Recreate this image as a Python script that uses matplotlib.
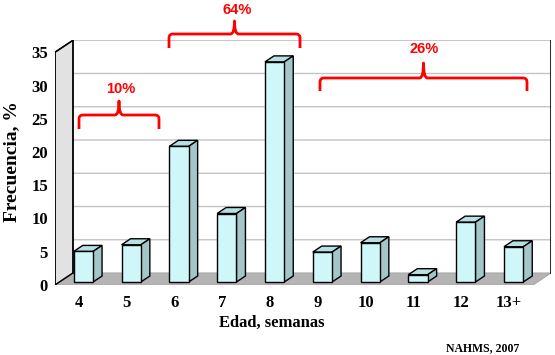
import matplotlib
matplotlib.use("Agg")
import matplotlib.pyplot as plt
from matplotlib.patches import Polygon, PathPatch
from matplotlib.path import Path

# ---- data ----
categories = ["4", "5", "6", "7", "8", "9", "10", "11", "12", "13+"]
values = [4.6, 5.6, 20.4, 10.3, 33.1, 4.5, 5.9, 1.1, 9.0, 5.3]
yticks = [0, 5, 10, 15, 20, 25, 30, 35]
groups = ["10%", "64%", "26%"]

# ---- layout (pixels) ----
W_PX, H_PX = 555, 355
X0_PX, X1_PX = 55, 551       # axes left/right
Y0_PX, Y1_PX = 285, 40       # axes bottom (front zero) / top
PX_PER_CAT = 47.8
PX_PER_UNIT = 6.65

fig = plt.figure(figsize=(W_PX / 100, H_PX / 100), dpi=100)
ax = fig.add_axes([X0_PX / W_PX, 1 - Y0_PX / H_PX,
                   (X1_PX - X0_PX) / W_PX, (Y0_PX - Y1_PX) / H_PX])
xmax = -0.5 + (X1_PX - X0_PX) / PX_PER_CAT
ymax = (Y0_PX - Y1_PX) / PX_PER_UNIT
ax.set_xlim(-0.5, xmax)
ax.set_ylim(0, ymax)
for s in ax.spines.values():
    s.set_visible(False)

DX = 18 / PX_PER_CAT
DY = 12 / PX_PER_UNIT
n = len(categories)
top = yticks[-1]

# left wall
ax.add_patch(Polygon([(-0.5, 0), (-0.5 + DX, DY), (-0.5 + DX, top + DY), (-0.5, top)],
                     closed=True, facecolor="#e2e2e2", edgecolor="black", lw=1.0, zorder=1))
# floor
ax.add_patch(Polygon([(-0.5, 0), (n - 0.5, 0), (n - 0.5 + DX, DY), (-0.5 + DX, DY)],
                     closed=True, facecolor="#b4b4b4", edgecolor="#a8a8a8", lw=0.8, zorder=1))
# gridlines
for v in yticks[1:]:
    ax.plot([-0.5, -0.5 + DX, n - 0.5 + DX], [v, v + DY, v + DY],
            color="#c4c4c4", lw=1.0, zorder=0.5)
# re-draw left wall edges over gridlines
ax.plot([-0.5, -0.5, -0.5 + DX, -0.5 + DX], [0, top, top + DY, DY], color="black", lw=1.0, zorder=1.5)
ax.plot([-0.5, -0.5 + DX], [0, DY], color="black", lw=1.0, zorder=1.5)
# back wall right edge
ax.plot([n - 0.5 + DX, n - 0.5 + DX], [DY, top + DY], color="black", lw=1.2, zorder=1.5)

# bars
BW = 19.3 / PX_PER_CAT
offx, offy = DX / 4, DY / 4
bdx, bdy = DX / 2, DY / 2
xs = list(range(n))
front = "#cff6f8"
topc = "#b8e0e2"
side = "#a3c6c8"
ax.bar([x + offx for x in xs], values, width=BW, bottom=offy,
       facecolor=front, edgecolor="black", linewidth=1.0, zorder=3)
for x, v in zip(xs, values):
    x0 = x + offx - BW / 2
    y0 = offy
    ax.add_patch(Polygon([(x0, y0 + v), (x0 + BW, y0 + v), (x0 + BW + bdx, y0 + v + bdy),
                          (x0 + bdx, y0 + v + bdy)], closed=True,
                         facecolor=topc, edgecolor="black", lw=1.0, zorder=2.9))
    ax.add_patch(Polygon([(x0 + BW, y0), (x0 + BW + bdx, y0 + bdy), (x0 + BW + bdx, y0 + v + bdy),
                          (x0 + BW, y0 + v)], closed=True,
                         facecolor=side, edgecolor="black", lw=1.0, zorder=2.9))

# ticks
tickfont = dict(family="Liberation Serif", weight="bold", size=12)
ax.set_xticks(xs)
ax.set_xticklabels(categories, **tickfont)
ax.set_yticks(yticks)
ax.set_yticklabels([str(t) for t in yticks], **tickfont)
ax.tick_params(axis="both", length=0)
ax.tick_params(axis="x", pad=7)
ax.tick_params(axis="y", pad=5)

fig.text(12 / W_PX, 1 - 162 / H_PX, "Frecuencia, %", rotation=90, ha="center", va="center",
         family="Liberation Serif", weight="bold", size=14)
fig.text(272 / W_PX, 1 - 323 / H_PX, "Edad, semanas", ha="center", va="center",
         family="Liberation Serif", weight="bold", size=12)
fig.text(483 / W_PX, 1 - 348 / H_PX, "NAHMS, 2007", ha="center", va="center",
         family="Liberation Serif", weight="bold", size=8.5)

# brackets (pixel geometry)
def pxd(px, py):
    return (-0.5 + (px - X0_PX) / PX_PER_CAT, (Y0_PX - py) / PX_PER_UNIT)

brackets = [  # xL, xR, yh, yend, ypeak, label x, label y
    (79, 159, 115, 129, 101, 121, 89),
    (169, 300, 34, 48, 21, 237, 10),
    (320, 527, 78, 91, 63, 424, 49),
]
r = 4
for (xL, xR, yh, ye, yp, lx, ly), lab in zip(brackets, groups):
    xm = (xL + xR) / 2
    pts = [(xL, ye), (xL, yh + r), (xL, yh), (xL + r, yh), (xm - r, yh), (xm, yh), (xm, yp),
           (xm, yh), (xm + r, yh), (xR - r, yh), (xR, yh), (xR, yh + r), (xR, ye)]
    codes = [Path.MOVETO, Path.LINETO, Path.CURVE3, Path.CURVE3, Path.LINETO, Path.CURVE3, Path.CURVE3,
             Path.CURVE3, Path.CURVE3, Path.LINETO, Path.CURVE3, Path.CURVE3, Path.LINETO]
    path = Path([pxd(*p) for p in pts], codes)
    ax.add_patch(PathPatch(path, facecolor="none", edgecolor="#ff0000", lw=2.0,
                           clip_on=False, zorder=5, capstyle="butt", joinstyle="round"))
    tx, ty = pxd(lx, ly)
    ax.text(tx, ty, lab, ha="center", va="center", color="#ff0000", weight="bold",
            family="Liberation Sans", size=10.5, clip_on=False, zorder=5)

fig.savefig("out.png", dpi=100)
